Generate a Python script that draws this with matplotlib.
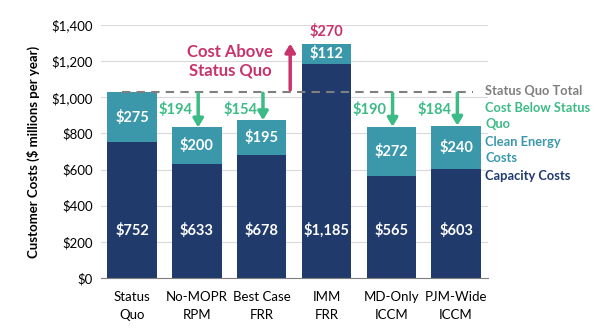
import matplotlib.pyplot as plt
import numpy as np

plt.rcParams['font.family'] = ['Lato', 'DejaVu Sans']

scenarios = ["Status\nQuo", "No-MOPR\nRPM", "Best Case\nFRR", "IMM\nFRR", "MD-Only\nICCM", "PJM-Wide\nICCM"]
capacity = [752, 633, 678, 1185, 565, 603]
clean_energy = [275, 200, 195, 112, 272, 240]
status_quo_total = 1027
yticks = [0, 200, 400, 600, 800, 1000, 1200, 1400]

NAVY = '#1f3a6b'
TEAL = '#3a98aa'
GREEN = '#3dbb86'
PINK = '#c8336b'
GREY = '#7f7f7f'

capacity = np.array(capacity)
clean_energy = np.array(clean_energy)
totals = capacity + clean_energy
x = np.arange(len(scenarios))

fig = plt.figure(figsize=(6.14, 3.36), dpi=100)
ax = fig.add_axes([0.1645, 0.1726, 0.630, 0.753])

ax.bar(x, capacity, width=0.76, color=NAVY, zorder=2)
ax.bar(x, clean_energy, bottom=capacity, width=0.76, color=TEAL, zorder=2)

for i in range(len(x)):
    ax.text(x[i], 262, f"${capacity[i]:,}", color='white', fontsize=10.5,
            fontweight='bold', ha='center', va='center', zorder=3)
    ax.text(x[i], capacity[i] + clean_energy[i] / 2, f"${clean_energy[i]:,}",
            color='white', fontsize=10.5, fontweight='bold', ha='center', va='center', zorder=3)

# status quo reference line
ax.plot([-0.15, 5.26], [status_quo_total, status_quo_total], color=GREY,
        linestyle=(0, (4, 3)), linewidth=1.5, zorder=3)

for i in range(1, len(x)):
    diff = totals[i] - status_quo_total
    if diff < 0:
        ax.annotate('', xy=(x[i] + 0.02, totals[i]), xytext=(x[i] + 0.02, status_quo_total - 5),
                    arrowprops=dict(arrowstyle='-|>,head_width=0.3,head_length=0.5',
                                    color=GREEN, lw=2.5, shrinkA=0, shrinkB=0), zorder=4)
        ax.text(x[i] - 0.07, 935, f"${-diff:,}", color=GREEN, fontsize=10.5,
                fontweight='bold', ha='right', va='center')
    else:
        ax.annotate('', xy=(x[i] - 0.56, totals[i]), xytext=(x[i] - 0.56, status_quo_total + 15),
                    arrowprops=dict(arrowstyle='-|>,head_width=0.3,head_length=0.5',
                                    color=PINK, lw=2.5, shrinkA=0, shrinkB=0), zorder=4)
        ax.text(x[i], totals[i] + 28, f"${diff:,}", color=PINK, fontsize=10.5,
                fontweight='bold', ha='center', va='bottom')
        ax.text(x[i] - 1.49, 1200, "Cost Above\nStatus Quo", color=PINK, fontsize=12,
                fontweight='bold', ha='center', va='center', linespacing=1.15)

# side legend
leg_kw = dict(fontsize=9.3, fontweight='bold', ha='left', va='center',
              linespacing=1.4, clip_on=False)
ax.text(5.45, 1035, "Status Quo Total", color=GREY, **leg_kw)
ax.text(5.45, 894, "Cost Below Status\nQuo", color=GREEN, **leg_kw)
ax.text(5.45, 706, "Clean Energy\nCosts", color=TEAL, **leg_kw)
ax.text(5.45, 565, "Capacity Costs", color=NAVY, **leg_kw)

ax.set_xlim(-0.48, 5.49)
ax.set_ylim(0, 1400)
ax.set_yticks(yticks)
ax.set_yticklabels([f"${v:,}" for v in yticks], fontsize=9.5)
ax.set_xticks(x)
ax.set_xticklabels(scenarios, fontsize=9.5, linespacing=1.6)
ax.tick_params(axis='both', length=0, pad=6)
ax.tick_params(axis='x', pad=9)
ax.grid(axis='y', color='#d9d9d9', linewidth=0.8, zorder=0)
for s in ['left', 'right', 'top']:
    ax.spines[s].set_visible(False)
ax.spines['bottom'].set_color('#7f7f7f')
ax.set_ylabel("Customer Costs ($ millions per year)", fontsize=9.5, fontweight='bold', labelpad=8)

fig.savefig('out.png', dpi=100)
